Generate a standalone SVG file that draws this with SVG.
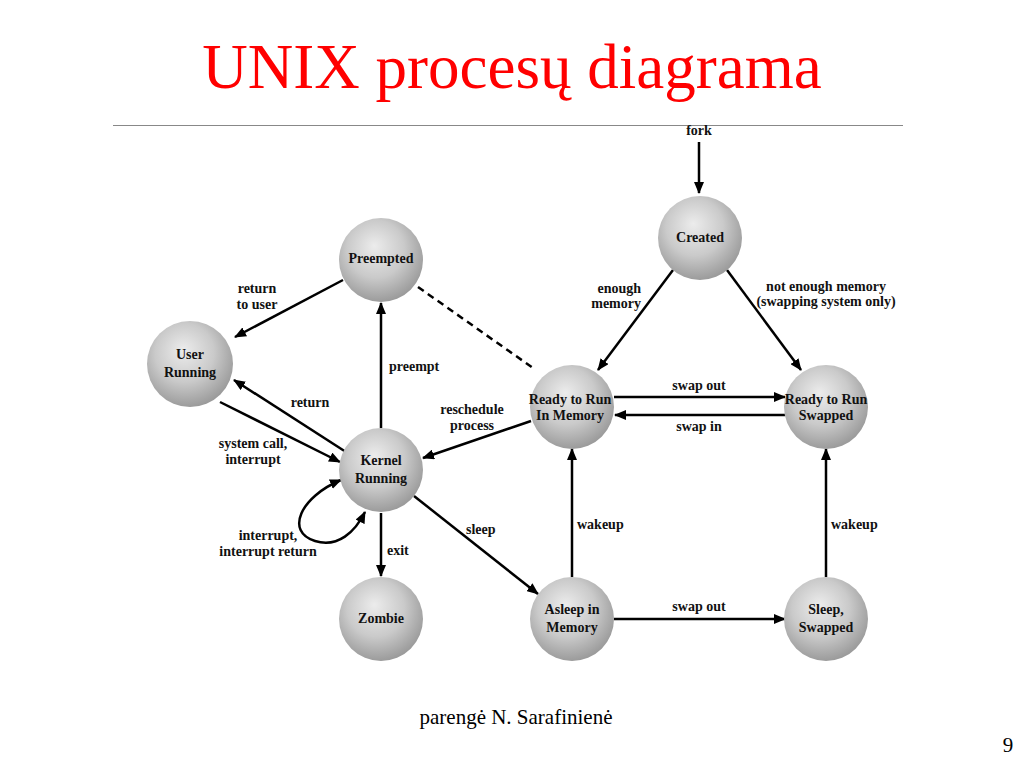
<svg xmlns="http://www.w3.org/2000/svg" width="1024" height="768" viewBox="0 0 1024 768">
<defs>
<radialGradient id="ball" cx="0.45" cy="0.4" r="0.62" fx="0.42" fy="0.33">
<stop offset="0" stop-color="#ececec"/>
<stop offset="0.55" stop-color="#cacaca"/>
<stop offset="1" stop-color="#989898"/>
</radialGradient>
<marker id="arr" viewBox="0 0 12 10" refX="11" refY="5" markerWidth="12" markerHeight="10" markerUnits="userSpaceOnUse" orient="auto-start-reverse">
<path d="M0,0 L12,5 L0,10 z" fill="#000"/>
</marker>
</defs>
<style>
.title{font-family:"Liberation Serif","Times New Roman",serif;font-size:63px;fill:#ff0000}
.foot{font-family:"Liberation Serif","Times New Roman",serif;font-size:21px;fill:#000}
.node circle{fill:url(#ball)}
.nl{font-family:"Liberation Serif","Times New Roman",serif;font-weight:bold;font-size:14px;fill:#111;text-anchor:middle}
.el{font-family:"Liberation Serif","Times New Roman",serif;font-weight:bold;font-size:14px;fill:#111}
.c{fill:none;stroke:#000;stroke-width:2.5;marker-end:url(#arr)}
.d{fill:none;stroke:#000;stroke-width:2.5;stroke-dasharray:7,5}
</style>
<rect width="1024" height="768" fill="#fff"/>
<text class="title" x="512" y="88" text-anchor="middle">UNIX procesų diagrama</text>
<line x1="113" y1="125.5" x2="903" y2="125.5" stroke="#888" stroke-width="1.2"/>

<g id="connectors">
<path class="c" d="M699,142 L699,193"/>
<path class="c" d="M673,270 L598,370"/>
<path class="c" d="M727,270 L801,370"/>
<path class="c" d="M614,397 L785,397"/>
<path class="c" d="M785,415 L615,415"/>
<path class="c" d="M572,577 L572,449"/>
<path class="c" d="M826,577 L826,449"/>
<path class="c" d="M614,619 L785,619"/>
<path class="c" d="M414,496 L538,594"/>
<path class="c" d="M381,513 L381,576"/>
<path class="c" d="M381,428 L381,303"/>
<path class="c" d="M343,280 L235,337"/>
<path class="c" d="M346,452 L234,380"/>
<path class="c" d="M220,402 L340,462"/>
<path class="c" d="M531,421 L423,458"/>
<path class="d" d="M418,287 L533,368"/>
<path class="c" style="marker-start:url(#arr)" d="M341,480 C300,497 285,532 315,541 C338,548 355,532 365,512"/>
</g>

<g id="edge-labels">
<text class="el" x="699" y="135" text-anchor="middle">fork</text>
<text class="el" x="641" y="293" text-anchor="end">enough</text>
<text class="el" x="641" y="308" text-anchor="end">memory</text>
<text class="el" x="826" y="291" text-anchor="middle">not enough memory</text>
<text class="el" x="826" y="306" text-anchor="middle">(swapping system only)</text>
<text class="el" x="699" y="390" text-anchor="middle">swap out</text>
<text class="el" x="699" y="431" text-anchor="middle">swap in</text>
<text class="el" x="577" y="529">wakeup</text>
<text class="el" x="831" y="529">wakeup</text>
<text class="el" x="699" y="611" text-anchor="middle">swap out</text>
<text class="el" x="466" y="534">sleep</text>
<text class="el" x="387" y="555">exit</text>
<text class="el" x="389" y="371">preempt</text>
<text class="el" x="257" y="293" text-anchor="middle">return</text>
<text class="el" x="257" y="309" text-anchor="middle">to user</text>
<text class="el" x="310" y="407" text-anchor="middle">return</text>
<text class="el" x="253" y="448" text-anchor="middle">system call,</text>
<text class="el" x="253" y="464" text-anchor="middle">interrupt</text>
<text class="el" x="268" y="540" text-anchor="middle">interrupt,</text>
<text class="el" x="268" y="556" text-anchor="middle">interrupt return</text>
<text class="el" x="472" y="414" text-anchor="middle">reschedule</text>
<text class="el" x="472" y="430" text-anchor="middle">process</text>
</g>

<g id="n-created" class="node"><circle cx="700" cy="238" r="42"/><text class="nl" x="700" y="242">Created</text></g>
<g id="n-preempted" class="node"><circle cx="381" cy="260" r="42"/><text class="nl" x="381" y="263">Preempted</text></g>
<g id="n-user" class="node"><circle cx="190" cy="364" r="43"/><text class="nl" x="190" y="359">User</text><text class="nl" x="190" y="377">Running</text></g>
<g id="n-kernel" class="node"><circle cx="381" cy="470" r="42"/><text class="nl" x="381" y="465">Kernel</text><text class="nl" x="381" y="483">Running</text></g>
<g id="n-zombie" class="node"><circle cx="381" cy="619" r="42"/><text class="nl" x="381" y="623">Zombie</text></g>
<g id="n-readymem" class="node"><circle cx="572" cy="407" r="42"/><text class="nl" x="570" y="404">Ready to Run</text><text class="nl" x="570" y="420">In Memory</text></g>
<g id="n-readyswap" class="node"><circle cx="826" cy="407" r="42"/><text class="nl" x="826" y="404">Ready to Run</text><text class="nl" x="826" y="420">Swapped</text></g>
<g id="n-asleep" class="node"><circle cx="572" cy="619" r="42"/><text class="nl" x="572" y="614">Asleep in</text><text class="nl" x="572" y="632">Memory</text></g>
<g id="n-sleepswap" class="node"><circle cx="826" cy="619" r="42"/><text class="nl" x="826" y="614">Sleep,</text><text class="nl" x="826" y="632">Swapped</text></g>

<text class="foot" x="516" y="724" text-anchor="middle">parengė N. Sarafinienė</text>
<text class="foot" x="1008" y="752" text-anchor="middle">9</text>
</svg>
